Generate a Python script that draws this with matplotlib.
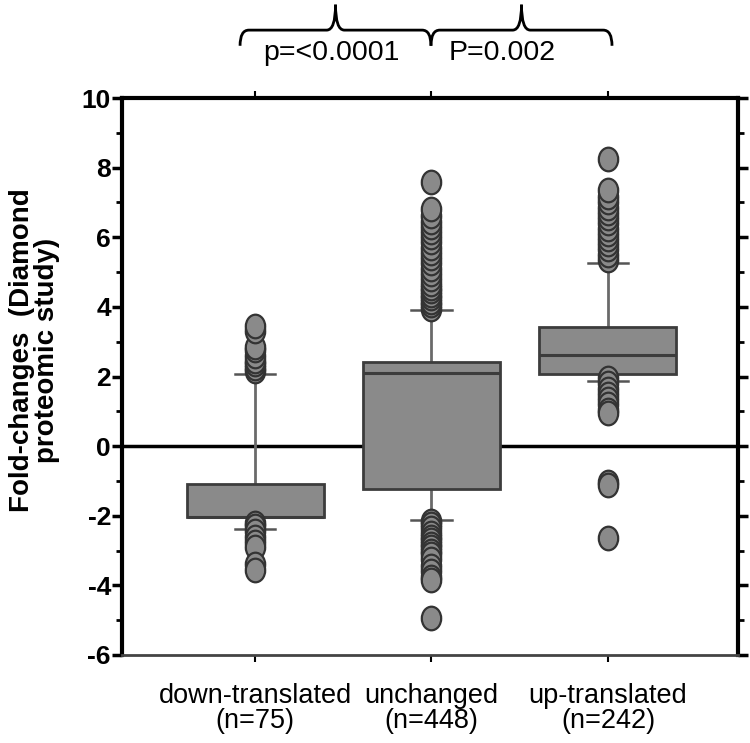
import numpy as np
import matplotlib
matplotlib.use("Agg")
import matplotlib.pyplot as plt
from matplotlib.path import Path
from matplotlib.patches import PathPatch
from matplotlib.ticker import MultipleLocator

plt.rcParams['font.family'] = ['Liberation Sans', 'DejaVu Sans']

# ---------------- data ----------------
categories = ["down-translated\n(n=75)", "unchanged\n(n=448)", "up-translated\n(n=242)"]
q1 = [-2.03, -1.22, 2.08]
medians = [-2.03, 2.09, 2.63]
q3 = [-1.08, 2.43, 3.41]
whisker_low = [-2.37, -2.12, 1.88]
whisker_high = [2.06, 3.90, 5.25]

down_fliers = [2.15, 2.25, 2.35, 2.45, 2.6, 2.75, 2.85, 3.3, 3.45,
               -2.2, -2.3, -2.45, -2.6, -2.75, -2.9, -3.4, -3.55]
unchanged_fliers = [3.95, 4.05, 4.15, 4.25, 4.35, 4.45, 4.55, 4.65, 4.8, 4.95,
                    5.1, 5.25, 5.4, 5.55, 5.7, 5.85, 6.0, 6.15, 6.3, 6.45,
                    6.6, 6.8, 7.6,
                    -2.15, -2.25, -2.35, -2.5, -2.6, -2.7, -2.8, -2.9, -3.0,
                    -3.1, -3.25, -3.45, -3.6, -3.75, -3.85, -4.95]
up_fliers = [5.35, 5.5, 5.65, 5.8, 5.95, 6.1, 6.25, 6.4, 6.55, 6.7, 6.85,
             7.0, 7.15, 7.35, 8.25,
             1.95, 1.8, 1.65, 1.5, 1.35, 1.2, 1.05, 0.95,
             -1.02, -1.12, -2.63]
fliers = [down_fliers, unchanged_fliers, up_fliers]

pvalue_labels = ["p=<0.0001", "P=0.002"]

yticks = [-6, -4, -2, 0, 2, 4, 6, 8, 10]

# ---------------- figure ----------------
fig = plt.figure(figsize=(7.5, 7.43), dpi=100)
ax = fig.add_axes([122/750, 1-655/743, (738-122)/750, (655-98)/743])

positions = [1, 2, 3]
stats = []
for i in range(3):
    stats.append(dict(label=categories[i], q1=q1[i], med=medians[i], q3=q3[i],
                      whislo=whisker_low[i], whishi=whisker_high[i],
                      fliers=np.array(fliers[i])))

circ = Path.unit_circle()
ellipse = Path(circ.vertices * np.array([0.82, 1.0]), circ.codes)

ax.axhline(0, color='black', lw=2.5, zorder=1)

bp = ax.bxp(stats, positions=positions, widths=0.776, capwidths=0.227,
            patch_artist=True, showfliers=True,
            boxprops=dict(facecolor='#8a8a8a', edgecolor='#3c3c3c', linewidth=2),
            medianprops=dict(color='#3c3c3c', linewidth=2.2),
            whiskerprops=dict(color='#6a6a6a', linewidth=2),
            capprops=dict(color='#555555', linewidth=1.8),
            flierprops=dict(marker=ellipse, markersize=17, markerfacecolor='#8a8a8a',
                            markeredgecolor='#333333', markeredgewidth=1.6,
                            linestyle='none'))
for b in bp['boxes']:
    b.set_zorder(3)
for m in bp['medians']:
    m.set_zorder(4)
for w in bp['whiskers'] + bp['caps']:
    w.set_zorder(2.5)
for f in bp['fliers']:
    f.set_zorder(5)

ax.set_xlim(0.246, 3.737)
ax.set_ylim(-6, 10)
ax.set_yticks(yticks)
ax.set_yticklabels([str(t) for t in yticks], fontsize=19, fontweight='bold')
ax.yaxis.set_minor_locator(MultipleLocator(1))
ax.set_xticks(positions)
ax.set_xticklabels(categories, fontsize=19.5, linespacing=0.95)

ax.tick_params(axis='y', which='major', direction='out', length=7, width=2.5,
               left=True, right=True, labelleft=True, labelright=False, pad=1)
ax.tick_params(axis='y', which='minor', direction='out', length=4, width=2,
               left=True, right=True)
ax.tick_params(axis='x', which='major', direction='out', length=5, width=1.5,
               top=True, bottom=True, labeltop=False, pad=15)

for s in ['left', 'top', 'right']:
    ax.spines[s].set_linewidth(3)
    ax.spines[s].set_color('black')
ax.spines['bottom'].set_linewidth(2)
ax.spines['bottom'].set_color('#444444')

fig.text(35/750, 1-350/743, "Fold-changes  (Diamond\nproteomic study)",
         rotation=90, ha='center', va='center', fontsize=20, fontweight='bold',
         multialignment='center', linespacing=0.95)

# ---------------- significance braces ----------------
def brace(x0, x1, y_end, y_h, y_tip, dx):
    xc = 0.5 * (x0 + x1)
    verts = [(x0, y_end), (x0, y_h), (x0 + dx, y_h),
             (xc - dx, y_h), (xc, y_h), (xc, y_tip),
             (xc, y_h), (xc + dx, y_h),
             (x1 - dx, y_h), (x1, y_h), (x1, y_end)]
    codes = [Path.MOVETO, Path.CURVE3, Path.CURVE3,
             Path.LINETO, Path.CURVE3, Path.CURVE3,
             Path.CURVE3, Path.CURVE3,
             Path.LINETO, Path.CURVE3, Path.CURVE3]
    p = PathPatch(Path(verts, codes), facecolor='none', edgecolor='black',
                  lw=2.0, clip_on=False, transform=ax.transData)
    ax.add_patch(p)

brace_edges = [positions[0] - 0.085, positions[1] - 0.003, positions[2] + 0.023]
text_x = [positions[0] + 0.43, positions[1] + 0.40]
for i in range(2):
    brace(brace_edges[i], brace_edges[i+1], 11.5, 11.95, 12.68, 0.05)
    ax.text(text_x[i], 11.3, pvalue_labels[i],
            ha='center', va='center', fontsize=20.5, clip_on=False)

fig.savefig("out.png", dpi=100)
